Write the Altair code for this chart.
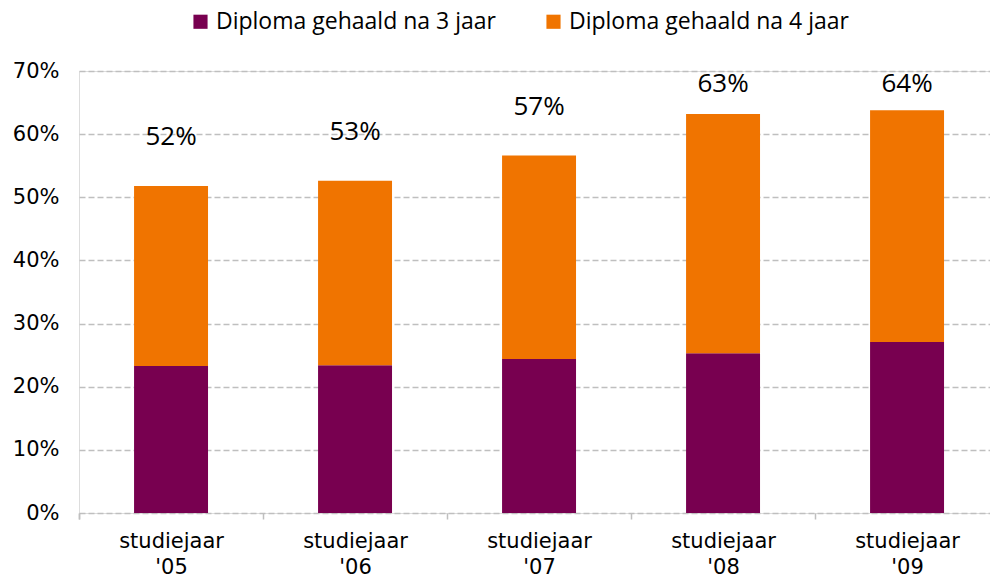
import altair as alt
import pandas as pd

years = ["studiejaar '05", "studiejaar '06", "studiejaar '07", "studiejaar '08", "studiejaar '09"]
series = ["Diploma gehaald na 3 jaar", "Diploma gehaald na 4 jaar"]
na3 = [23.3, 23.4, 24.4, 25.3, 27.1]
na4 = [28.5, 29.2, 32.2, 37.9, 36.7]
colors = ["#780050", "#F07400"]

rows = []
for y, a, b in zip(years, na3, na4):
    rows.append({"jaar": y, "serie": series[0], "waarde": a / 100, "volgorde": 0})
    rows.append({"jaar": y, "serie": series[1], "waarde": b / 100, "volgorde": 1})
df = pd.DataFrame(rows)
tot = pd.DataFrame({"jaar": years, "totaal": [(a + b) / 100 for a, b in zip(na3, na4)]})

x_enc = alt.X("jaar:N", sort=years, title=None,
              scale=alt.Scale(paddingInner=0.598, paddingOuter=0.2745, align=0.545),
              axis=alt.Axis(labelAngle=0, domain=False, bandPosition=0, tickOffset=-55,
                            labelOffset=55, tickExtra=True, tickColor="#bfbfbf", tickSize=6,
                            tickWidth=1.5, labelFont="DejaVu Sans", labelFontSize=21,
                            labelColor="#000000", labelPadding=11, labelLineHeight=26,
                            labelBaseline="top",
                            labelExpr="split(datum.label, ' ')"))

bars = alt.Chart(df).mark_bar().encode(
    x=x_enc,
    y=alt.Y("waarde:Q", stack="zero", title=None,
            scale=alt.Scale(domain=[0, 0.7], nice=False),
            axis=alt.Axis(format=".0%", values=[0, 0.1, 0.2, 0.3, 0.4, 0.5, 0.6, 0.7],
                          domain=False, ticks=False, grid=True, gridColor="#bfbfbf",
                          gridDash=[6, 3], gridWidth=1.5, labelFont="DejaVu Sans",
                          labelFontSize=21, labelColor="#000000", labelPadding=20)),
    color=alt.Color("serie:N", scale=alt.Scale(domain=series, range=colors),
                    legend=alt.Legend(title=None, orient="none", direction="horizontal",
                                      legendX=110, legendY=-61, symbolType="square",
                                      symbolSize=200, symbolStrokeWidth=0, symbolOpacity=1,
                                      labelFont="Open Sans", labelFontSize=23, labelLimit=0,
                                      labelColor="#000000", columnPadding=46, labelOffset=4)),
    order=alt.Order("volgorde:Q"),
)

labels = alt.Chart(tot).transform_calculate(
    ly="min(datum.totaal + 0.077, 0.679)"
).mark_text(font="Open Sans", fontSize=26, color="#000000", baseline="middle").encode(
    x=alt.X("jaar:N", sort=years),
    y=alt.Y("ly:Q"),
    text=alt.Text("totaal:Q", format=".0%"),
)

chart = alt.layer(bars, labels).properties(
    width=911, height=442,
    autosize=alt.AutoSizeParams(type="none"),
    padding={"left": 79, "top": 71, "right": 0, "bottom": 64},
).configure_view(stroke=None).configure(background="#ffffff")

chart.save("out.html", embed_options={"renderer": "svg", "actions": False})
